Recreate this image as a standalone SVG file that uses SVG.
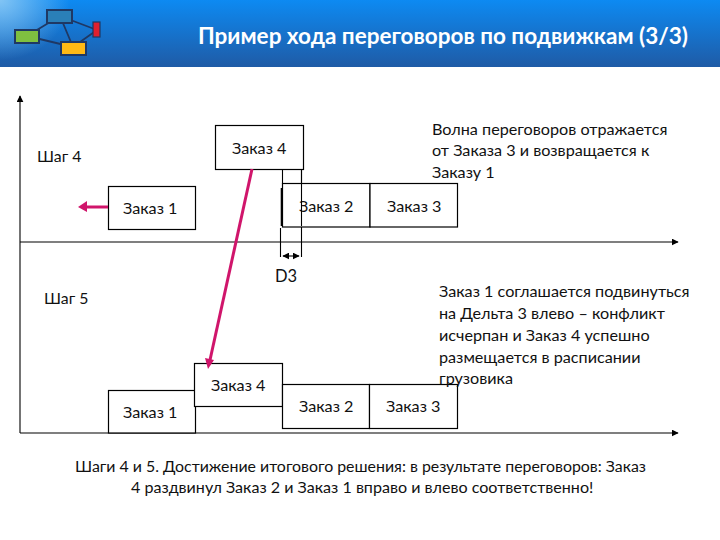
<svg xmlns="http://www.w3.org/2000/svg" width="720" height="540" viewBox="0 0 720 540">
<style>
text{font-family:"Lato","Liberation Sans",sans-serif;font-size:16.2px;fill:#111}
.b{fill:#fff;stroke:#000;stroke-width:1.2}
.l{fill:none;stroke:#000;stroke-width:1.1}
.a{fill:none;stroke:#d0156b;stroke-width:3}
.n{stroke:#1f3864;stroke-width:1.8}
</style>
<defs>
<radialGradient id="hg" gradientUnits="userSpaceOnUse" cx="0" cy="0" r="1" gradientTransform="scale(70 60)"><stop offset="0" stop-color="#8fcbf5" stop-opacity="0.9"/><stop offset="1" stop-color="#8fcbf5" stop-opacity="0"/></radialGradient>
<linearGradient id="hh" x1="0" y1="0" x2="0" y2="1"><stop offset="0" stop-color="#0d8af2"/><stop offset="1" stop-color="#1f5ba6"/></linearGradient>
<marker id="ah" viewBox="0 0 10 10" refX="9" refY="5" markerWidth="7" markerHeight="7" orient="auto" markerUnits="userSpaceOnUse"><path d="M0 0L10 5L0 10z" fill="#000"/></marker>
<marker id="d" viewBox="0 0 10 10" refX="9" refY="5" markerWidth="7" markerHeight="7" orient="auto-start-reverse" markerUnits="userSpaceOnUse"><path d="M0 0L10 5L0 10z" fill="#000"/></marker>
</defs>
<rect width="720" height="540" fill="#fff"/>
<g id="header">
<rect width="720" height="67" fill="url(#hh)"/>
<rect width="720" height="67" fill="url(#hg)"/>
<path class="n" fill="none" d="M27 36L60 16M27 36L73 47M60 16L73 47M60 16L97 30M97 30L73 47"/>
<rect x="47" y="10" width="25" height="13" fill="#2a7fb8" stroke="#1f3864" stroke-width="2"/>
<rect x="15" y="30" width="24" height="13" fill="#7fc040" stroke="#1f3864" stroke-width="2"/>
<rect x="61" y="42" width="25" height="13" fill="#ffb915" stroke="#1f3864" stroke-width="2"/>
<rect x="93" y="22" width="7" height="15" fill="#e0202f" stroke="#1f3864" stroke-width="1.2"/>
<text x="198" y="44" style="font-size:22.500px;font-weight:700;fill:#fff">Пример хода переговоров по подвижкам (3/3)</text>
</g>
<g id="connectors">
<path class="l" d="M20 433V96" marker-end="url(#ah)"/>
<path class="l" d="M20 242H678" marker-end="url(#ah)"/>
<path class="l" d="M20 433H678" marker-end="url(#ah)"/>
<path class="l" d="M280.500 228V257M301.500 170V257M282.500 170V184"/>
<path class="l" d="M283 256H299" marker-start="url(#d)" marker-end="url(#d)"/>
<path d="M281.500 188V226" stroke="#000" stroke-width="1.6"/>
</g>
<g id="order1-a"><rect class="b" x="108.500" y="186.500" width="87" height="43"/><text x="123" y="214">Заказ 1</text></g>
<g id="order4-a"><rect class="b" x="215.500" y="125.500" width="88" height="44"/><text x="232" y="154">Заказ 4</text></g>
<g id="order2-a"><rect class="b" x="282.500" y="183.500" width="87.500" height="43.500"/><text x="299" y="212">Заказ 2</text></g>
<g id="order3-a"><rect class="b" x="370" y="183.500" width="87.500" height="43.500"/><text x="387" y="212">Заказ 3</text></g>
<path class="l" d="M301.500 170V226"/>
<g id="order1-b"><rect class="b" x="108.500" y="390.500" width="87" height="42.500"/><text x="123" y="418">Заказ 1</text></g>
<g id="order4-b"><rect class="b" x="194.500" y="363.500" width="88" height="43"/><text x="211" y="391">Заказ 4</text></g>
<g id="order2-b"><rect class="b" x="282.500" y="384.500" width="87" height="44"/><text x="299" y="412">Заказ 2</text></g>
<g id="order3-b"><rect class="b" x="369.500" y="384.500" width="88" height="44"/><text x="386" y="412">Заказ 3</text></g>
<g id="arrows">
<path class="a" d="M252 169L210 360"/>
<path d="M214 360L208 369L205 358z" fill="#d0156b"/>
<path class="a" d="M108 207H85"/>
<path d="M87 201L78 207L87 212z" fill="#d0156b"/>
</g>
<g id="labels">
<text x="37" y="162" style="font-size:15.800px">Шаг 4</text>
<text x="44" y="304" style="font-size:15.800px">Шаг 5</text>
<text x="275" y="282" style="font-size:16.500px">D3</text>
<text x="432" y="135">Волна переговоров отражается</text>
<text x="432" y="156">от Заказа 3 и возвращается к</text>
<text x="432" y="178">Заказу 1</text>
<text x="439" y="297">Заказ 1 соглашается подвинуться</text>
<text x="439" y="319">на Дельта 3 влево – конфликт</text>
<text x="439" y="341">исчерпан и Заказ 4 успешно</text>
<text x="439" y="363">размещается в расписании</text>
<text x="439" y="384">грузовика</text>
<text x="75" y="472" style="font-size:15.900px">Шаги 4 и 5. Достижение итогового решения: в результате переговоров: Заказ</text>
<text x="131" y="493" style="font-size:16.100px">4 раздвинул Заказ 2 и Заказ 1 вправо и влево соответственно!</text>
</g>
</svg>
